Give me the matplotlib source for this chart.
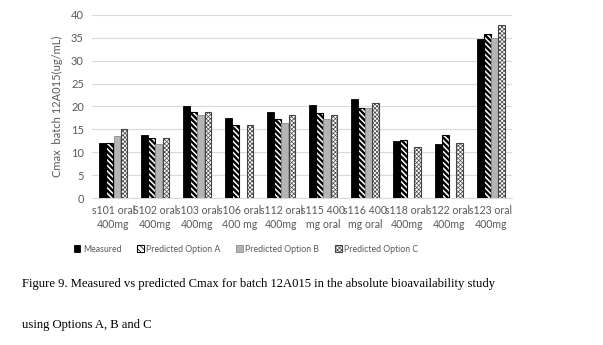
import matplotlib.pyplot as plt
import numpy as np

plt.rcParams['font.family'] = ['Lato', 'DejaVu Sans']

categories = ["s101 oral\n400mg", "S102 oral\n400mg", "s103 oral\n400mg", "s106 oral\n400 mg",
              "s112 oral\n400mg", "s115 400\nmg oral", "s116 400\nmg oral", "s118 oral\n400mg",
              "s122 oral\n400mg", "s123 oral\n400mg"]
measured = [12.1, 13.7, 20.2, 17.4, 18.8, 20.4, 21.6, 12.5, 11.9, 34.8]
option_a = [12.1, 13.0, 18.7, 15.9, 17.3, 18.6, 19.7, 12.7, 13.8, 35.8]
option_b = [13.6, 11.8, 18.1, 0.0, 16.3, 17.2, 19.7, 0.0, 0.0, 34.9]
option_c = [15.0, 13.0, 18.8, 15.9, 18.2, 18.1, 20.8, 11.2, 12.1, 37.8]

fig = plt.figure(figsize=(6.03, 3.45), dpi=100)
ax = fig.add_axes([0.153, 0.426, 0.696, 0.531])

x = np.arange(len(categories))
w = 0.17
ax.bar(x - 1.5 * w, measured, w * 0.92, color='black', edgecolor='black', linewidth=0.6,
       label='Measured', zorder=3)
plt.rcParams['hatch.linewidth'] = 1.7
ax.bar(x - 0.5 * w, option_a, w * 0.92, color='white', edgecolor='black', hatch='\\' * 6,
       linewidth=0.8, label='Predicted Option A', zorder=3)
ax.bar(x + 0.5 * w, option_b, w * 0.92, color='#b4b4b4', edgecolor='#8c8c8c', linewidth=0.6,
       label='Predicted Option B', zorder=3)
plt.rcParams['hatch.linewidth'] = 0.5
ax.bar(x + 1.5 * w, option_c, w * 0.92, color='white', edgecolor='#444444', hatch='x' * 8,
       linewidth=0.8, label='Predicted Option C', zorder=3)

ax.set_xlim(-0.5, len(categories) - 0.5)
ax.set_ylim(0, 40)
ax.set_yticks(range(0, 41, 5))
ax.grid(axis='y', color='#d9d9d9', linewidth=0.8, zorder=0)
for s in ['top', 'right', 'left']:
    ax.spines[s].set_visible(False)
ax.spines['bottom'].set_color('#d9d9d9')
ax.tick_params(axis='both', length=0, colors='#595959', labelsize=8)
ax.tick_params(axis='y', pad=6)
ax.tick_params(axis='x', pad=5)
ax.set_xticks(x)
ax.set_xticklabels(categories, fontsize=7.6, linespacing=1.3)
ax.set_ylabel('Cmax  batch 12A015(ug/mL)', color='#595959', fontsize=8, labelpad=6)

fig.legend(loc='center', bbox_to_anchor=(0.408, 0.278), ncol=4, frameon=False, fontsize=6.3,
           handlelength=0.75, handleheight=0.75, handletextpad=0.3, columnspacing=1.8,
           labelcolor='#595959')

fig.text(0.037, 0.178, 'Figure 9. Measured vs predicted Cmax for batch 12A015 in the absolute bioavailability study',
         family='Liberation Serif', fontsize=9.1, va='center')
fig.text(0.037, 0.058, 'using Options A, B and C', family='Liberation Serif', fontsize=9.1, va='center')

plt.savefig('out.png', dpi=100)
